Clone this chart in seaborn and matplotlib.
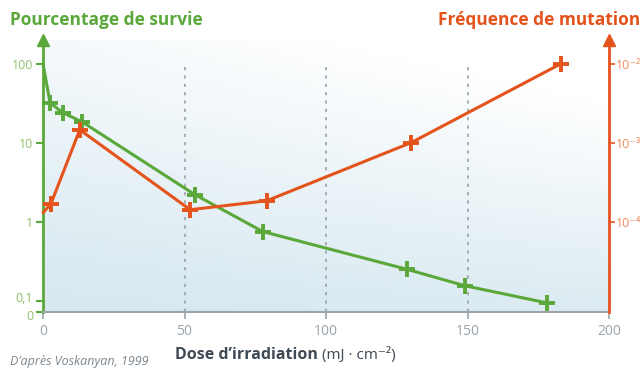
import numpy as np
import pandas as pd
import matplotlib
matplotlib.use("Agg")
import matplotlib.pyplot as plt
import matplotlib.transforms as mtransforms
import seaborn as sns
from matplotlib.colors import LinearSegmentedColormap

# ---- data ----
dose_survie = [0, 2.5, 7, 13.8, 53.7, 77.7, 128.6, 149, 178]
survie = [100, 32, 24, 18.4, 2.2, 0.75, 0.25, 0.155, 0.094]

dose_mut = [0, 2.8, 13, 52, 79, 130, 183]
mutation = [1.3e-4, 1.69e-4, 1.46e-3, 1.42e-4, 1.84e-4, 1.0e-3, 1.0e-2]

x_ticks = [0, 50, 100, 150, 200]
left_ticks = [0.072, 0.1, 1, 10, 100]
left_labels = ["0", "0,1", "1", "10", "100"]
right_ticks = [1e-4, 1e-3, 1e-2]
right_labels = ["10⁻⁴", "10⁻³", "10⁻²"]
grid_x = [50, 100, 150]

GREEN = "#5aa83a"
GREEN_LIGHT = "#8fc06e"
ORANGE = "#e4531c"
ORANGE_LIGHT = "#ef8a5e"
GRAY = "#9aa4aa"

sns.set_style("white")
plt.rcParams['font.family'] = ['Open Sans', 'DejaVu Sans']

fig = plt.figure(figsize=(6.44, 3.70), dpi=100)
ax = fig.add_axes([43/644, 1 - 312/370, (609-43)/644, (312-40)/370])

# background gradient
ny, nx = 100, 100
yy, xx = np.mgrid[0:1:ny*1j, 0:1:nx*1j]
grad = np.clip(0.75*yy + 0.35*xx*yy + 0.15*xx, 0, 1)
cmap = LinearSegmentedColormap.from_list("bg", ["#d6e8f0", "#ffffff"])
ax.imshow(grad, origin="lower", extent=[0, 1, 0, 1], transform=ax.transAxes,
          cmap=cmap, aspect="auto", zorder=0)

ax.set_yscale("log")
ax.set_xlim(0, 200)
ax.set_ylim(0.072, 200)

ax.vlines(grid_x, 0.072, 100, colors=GRAY, linestyles=(0, (2, 3)), linewidth=1.2, zorder=1)

df_s = pd.DataFrame({"dose": dose_survie, "survie": survie})
sns.lineplot(data=df_s, x="dose", y="survie", ax=ax, color=GREEN, linewidth=2.2,
             marker="+", markersize=12, markeredgewidth=2.8,
             markeredgecolor=GREEN, markerfacecolor=GREEN,
             markevery=list(range(1, len(survie))), zorder=3, clip_on=False)

ax.set_xticks(x_ticks)
ax.set_xticklabels([str(v) for v in x_ticks])
ax.set_yticks(left_ticks)
ax.set_yticklabels(left_labels)
ax.yaxis.set_minor_locator(matplotlib.ticker.NullLocator())
ax.tick_params(axis="x", colors=GRAY, labelcolor=GRAY, length=5, width=1.2, labelsize=10, direction="out", bottom=True)
ax.tick_params(axis="y", colors=GREEN, labelcolor=GREEN_LIGHT, length=5, width=1.5, labelsize=9, direction="out", left=True, pad=2)
ax.set_xlabel("")
ax.set_ylabel("")
for s in ["top", "right"]:
    ax.spines[s].set_visible(False)
ax.spines["left"].set_color(GREEN)
ax.spines["left"].set_linewidth(2)
ax.spines["bottom"].set_color(GRAY)
ax.spines["bottom"].set_linewidth(1.5)
# nudge the "0" / "0,1" labels apart slightly
lbls = ax.get_yticklabels()
lbls[0].set_transform(lbls[0].get_transform() + mtransforms.ScaledTranslation(0, -2/72, fig.dpi_scale_trans))
lbls[1].set_transform(lbls[1].get_transform() + mtransforms.ScaledTranslation(0, 3/72, fig.dpi_scale_trans))

ax2 = ax.twinx()
ax2.set_yscale("log")
ax2.set_ylim(0.072e-4, 200e-4)
df_m = pd.DataFrame({"dose": dose_mut, "mutation": mutation})
sns.lineplot(data=df_m, x="dose", y="mutation", ax=ax2, color=ORANGE, linewidth=2.2,
             marker="+", markersize=12, markeredgewidth=2.8,
             markeredgecolor=ORANGE, markerfacecolor=ORANGE,
             markevery=list(range(1, len(mutation))), zorder=3, clip_on=False)
ax2.set_yticks(right_ticks)
ax2.set_yticklabels(right_labels)
ax2.yaxis.set_minor_locator(matplotlib.ticker.NullLocator())
ax2.tick_params(axis="y", colors=ORANGE, labelcolor=ORANGE_LIGHT, length=4, width=1.2, labelsize=9, direction="out", pad=1)
ax2.set_ylabel("")
for s in ["top", "left", "bottom"]:
    ax2.spines[s].set_visible(False)
ax2.spines["right"].set_color(ORANGE)
ax2.spines["right"].set_linewidth(2)

# arrows on axes
ax.plot([0], [1.0], marker="^", color=GREEN, markersize=9, transform=ax.transAxes, clip_on=False, zorder=5)
ax2.plot([1], [1.0], marker="^", color=ORANGE, markersize=9, transform=ax2.transAxes, clip_on=False, zorder=5)

# titles
fig.text(10/644, 1 - 20/370, "Pourcentage de survie", color=GREEN, fontsize=12.5, fontweight="bold", va="center", ha="left")
fig.text(640/644, 1 - 20/370, "Fréquence de mutation", color=ORANGE, fontsize=12.5, fontweight="bold", va="center", ha="right")

# x label
fig.text(0.5, 1 - 355/370, "Dose d\u2019irradiation ", color="#3f4a55", fontsize=11.5, fontweight="bold", va="center", ha="right")
fig.text(0.5, 1 - 355/370, "(mJ · cm⁻²)", color="#3f4a55", fontsize=11, va="center", ha="left")

fig.text(10/644, 1 - 362/370, "D\u2019après Voskanyan, 1999", color="#7c8790", fontsize=9, style="italic", va="center", ha="left")

fig.savefig("out.png", dpi=100)
